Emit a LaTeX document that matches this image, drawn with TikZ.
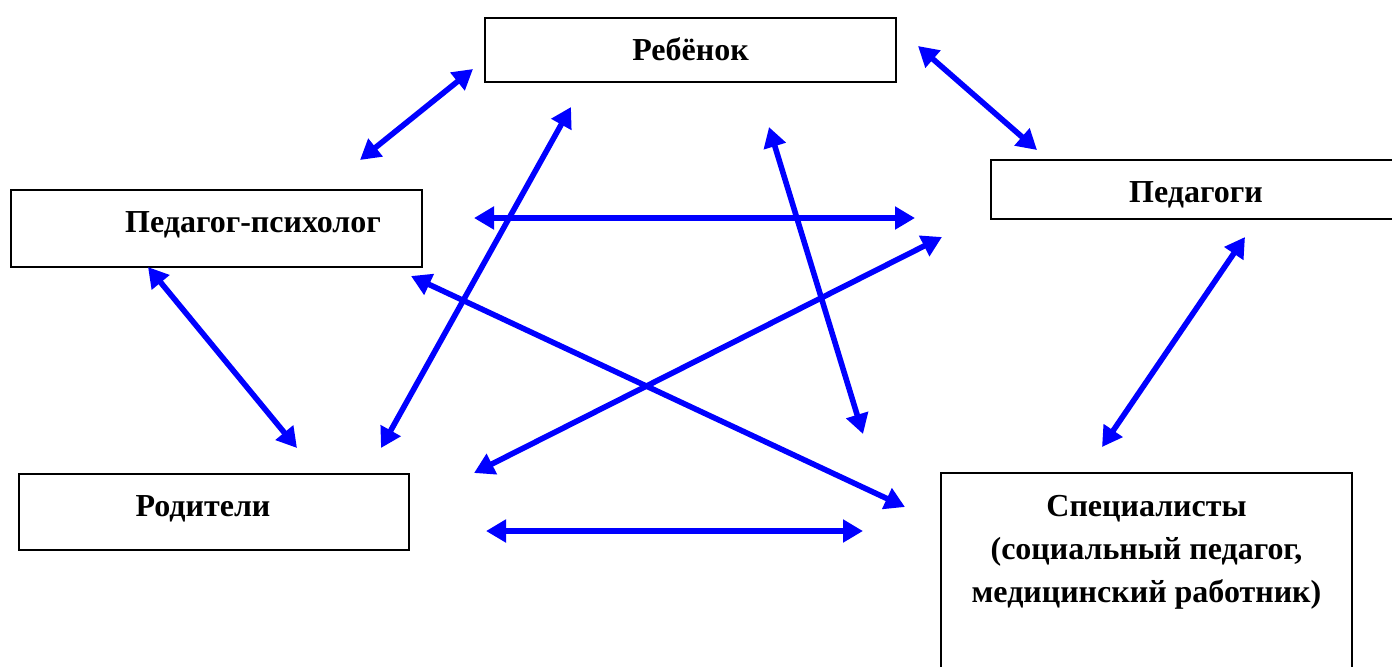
\documentclass[tikz,border=0pt]{standalone}
\usepackage{fontspec}
\setmainfont{Liberation Serif}
\usetikzlibrary{arrows.meta}

\tikzset{
  box/.style={draw, line width=1pt, inner sep=0pt},
  lbl/.style={font=\fontsize{16}{21.5}\selectfont\bfseries, inner sep=0pt, align=center, anchor=base},
  link/.style={blue, line width=2.8pt,
    {Triangle[length=10pt,width=11pt]}-{Triangle[length=10pt,width=11pt]}}
}

\begin{document}
\begin{tikzpicture}[x=0.5pt,y=-0.5pt]

\clip (0,0) rectangle (1392,666);

% Boxes
\node[box, minimum width=205.5pt, minimum height=32pt] (child) at (690.5,50) {};
\node[box, minimum width=205.5pt, minimum height=38.5pt] (psych) at (216.5,228.5) {};
\node[box, minimum width=205pt, minimum height=29.5pt] (teach) at (1196,189.5) {};
\node[box, minimum width=195pt, minimum height=38pt] (parents) at (214,512) {};
\node[box, minimum width=205.5pt, minimum height=115pt] (spec) at (1146.5,588) {};

% Box texts
\node[lbl] (childtxt) at (690.5,60) {Ребёнок};
\node[lbl] (psychtxt) at (253,232) {Педагог-психолог};
\node[lbl] (teachtxt) at (1196,202) {Педагоги};
\node[lbl] (parentstxt) at (203,516) {Родители};
\node[lbl] (spectxt) at (1146.5,602) {Специалисты\\(социальный педагог,\\медицинский работник)};

% Arrow ends
\coordinate (A1) at (360,160);   % child -- psych
\coordinate (A2) at (473,69);
\coordinate (B1) at (918,46);    % child -- teach
\coordinate (B2) at (1037,150);
\coordinate (C1) at (474,218);   % psych -- teach
\coordinate (C2) at (915,218);
\coordinate (D1) at (571,107);   % child -- parents
\coordinate (D2) at (381,448);
\coordinate (E1) at (769,127);   % child -- spec
\coordinate (E2) at (863,434);
\coordinate (F1) at (942,237);   % teach -- parents
\coordinate (F2) at (474,473);
\coordinate (G1) at (148,267);   % psych -- parents
\coordinate (G2) at (297,448);
\coordinate (H1) at (411,276);   % psych -- spec
\coordinate (H2) at (905,507);
\coordinate (I1) at (1245,237);  % teach -- spec
\coordinate (I2) at (1102,447);
\coordinate (J1) at (486,531);   % parents -- spec
\coordinate (J2) at (863,531);

% Arrows
\draw[link] (A1) -- (A2);
\draw[link] (B1) -- (B2);
\draw[link] (C1) -- (C2);
\draw[link] (D1) -- (D2);
\draw[link] (E1) -- (E2);
\draw[link] (F1) -- (F2);
\draw[link] (G1) -- (G2);
\draw[link] (H1) -- (H2);
\draw[link] (I1) -- (I2);
\draw[link] (J1) -- (J2);

\end{tikzpicture}
\end{document}
